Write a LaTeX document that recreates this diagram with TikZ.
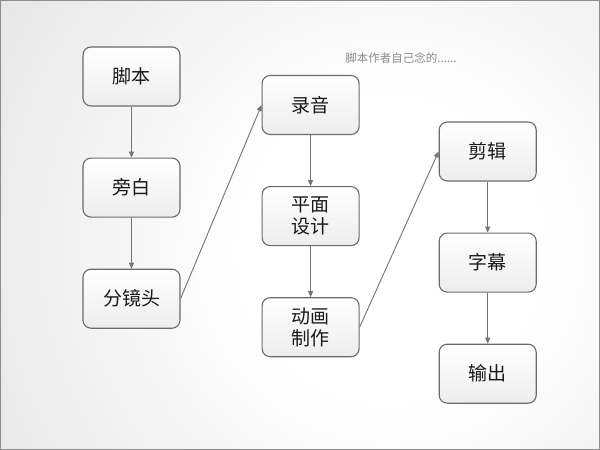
\documentclass[tikz,border=0pt]{standalone}
\usepackage{fontspec}
\setmainfont{Noto Sans CJK SC}
\usetikzlibrary{positioning,arrows.meta}
\pgfdeclareradialshading{bgglow}{\pgfpoint{0bp}{0bp}}{color(0bp)=(white); color(7bp)=(white); color(33bp)=(black!17); color(50bp)=(black!24)}

\tikzset{
  stage/.style={draw=black!58, line width=1.1pt, rounded corners=8pt,
    top color=white, bottom color=black!7, minimum width=97pt,
    minimum height=59pt, align=center, text=black!90,
    font=\fontsize{19}{22}\selectfont},
  flow/.style={draw=black!55, line width=0.9pt,
    -{Triangle[length=6pt,width=5pt]}},
}

\begin{document}
\begin{tikzpicture}[node distance=51pt]
      % background
      \begin{scope}
        \clip (0,0) rectangle (600pt,-450pt);
        \shade[shading=bgglow] (390pt,-250pt) circle (540pt);
      \end{scope}
      \draw[black!45, line width=1pt] (0.5pt,-0.5pt) rectangle (599.5pt,-449.5pt);
      \useasboundingbox (0,0) rectangle (600pt,-450pt);

      \node[stage] (a) at (131.5pt,-76.5pt) {脚本};
      \node[stage, below=of a] (b) {旁白};
      \node[stage, below=of b] (c) {分镜头};
      \node[stage, right=81pt of a, yshift=-28.5pt] (d) {录音};
      \node[stage, below=of d] (e) {平面\\设计};
      \node[stage, below=of e] (f) {动画\\制作};
      \node[stage, right=79pt of d, yshift=-46.5pt] (g) {剪辑};
      \node[stage, below=of g] (h) {字幕};
      \node[stage, below=of h] (i) {输出};
      \node[text=black!45, font=\fontsize{11.5}{13}\selectfont] (note) at (401pt,-58pt) {脚本作者自己念的......};

      \draw[flow] (a) -- (b);
      \draw[flow] (b) -- (c);
      \draw[flow] (c.east) -- (d.west);
      \draw[flow] (d) -- (e);
      \draw[flow] (e) -- (f);
      \draw[flow] (f.east) -- (g.west);
      \draw[flow] (g) -- (h);
      \draw[flow] (h) -- (i);
    \end{tikzpicture}
\end{document}
